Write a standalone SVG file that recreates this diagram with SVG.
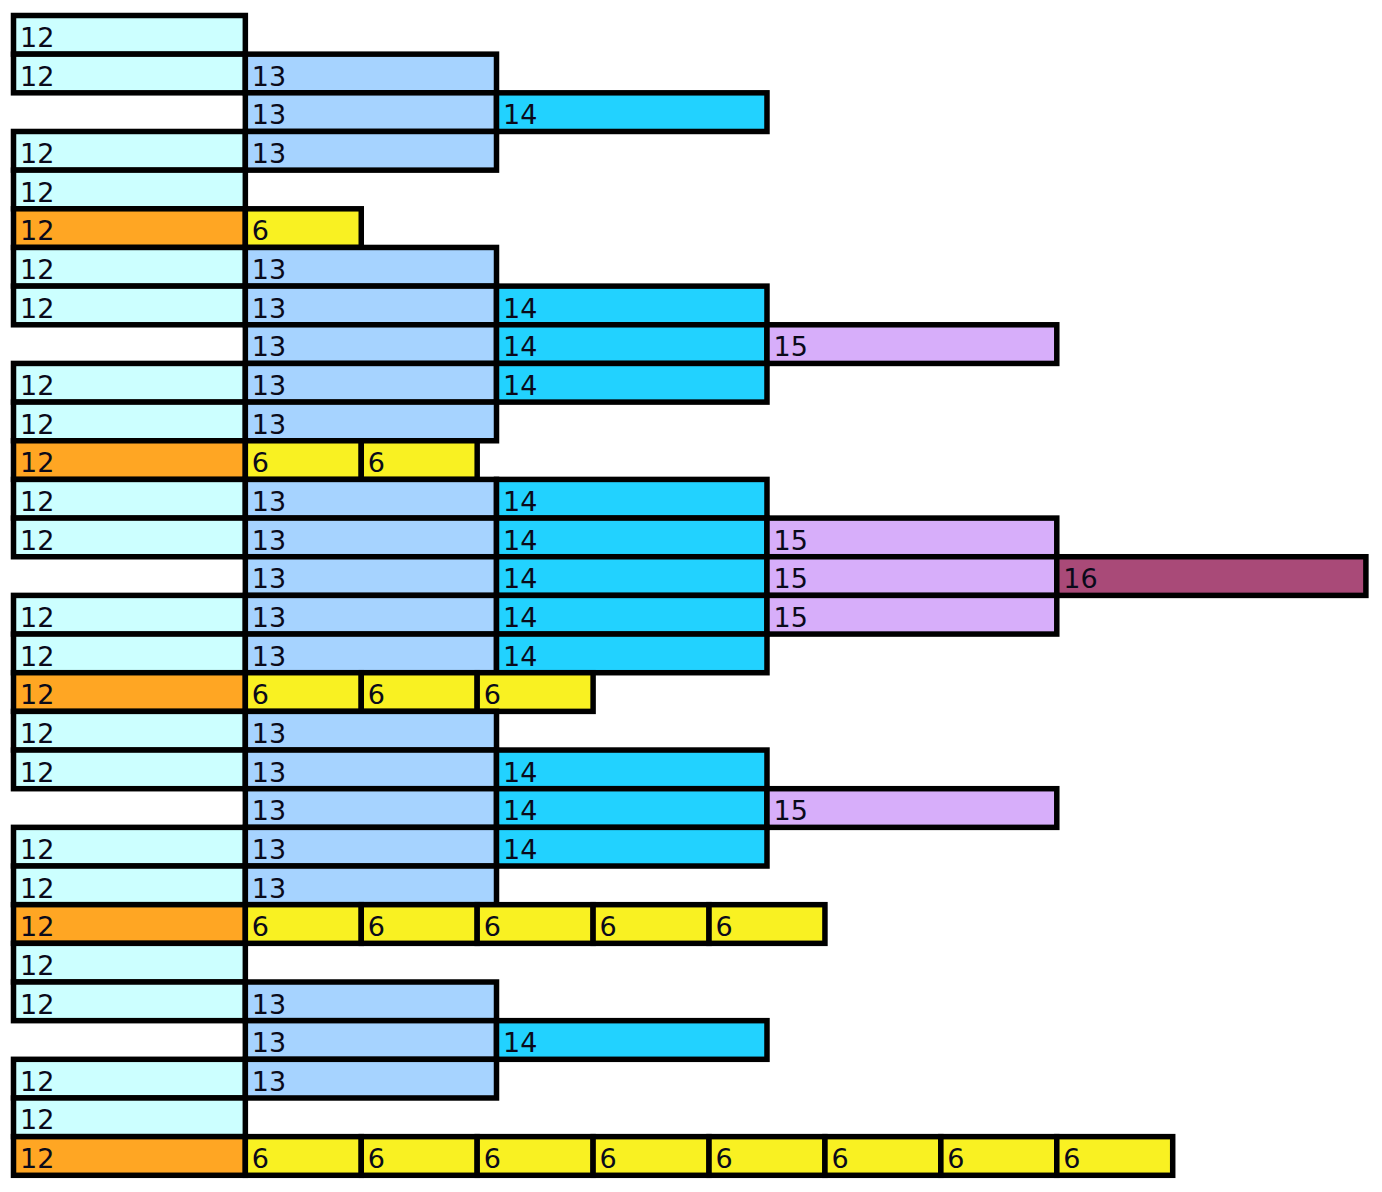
<svg xmlns="http://www.w3.org/2000/svg" width="1382" height="1192" viewBox="0 0 1382 1192">
<style>
rect{stroke:#000;stroke-width:5.5}
.a{fill:#CCFFFF}.o{fill:#FFA623}.b{fill:#A6D3FF}.c{fill:#22D2FF}.p{fill:#D7AEFA}.m{fill:#A94A78}.y{fill:#F9F122}
text{font-family:"DejaVu Sans",Verdana,sans-serif;font-size:27px;fill:#0a0a1a}
</style>
<rect x="0" y="0" width="1382" height="1192" fill="#fff" style="stroke:none"/>
<g id="r1"><rect class="a" x="13.5" y="15.5" width="231.84" height="38.66"/><text x="20" y="47">12</text></g>
<g id="r2"><rect class="a" x="13.5" y="54.16" width="231.84" height="38.66"/><text x="20" y="85.66">12</text><rect class="b" x="245.34" y="54.16" width="251.16" height="38.66"/><text x="251.84" y="85.66">13</text></g>
<g id="r3"><rect class="b" x="245.34" y="92.82" width="251.16" height="38.66"/><text x="251.84" y="124.32">13</text><rect class="c" x="496.5" y="92.82" width="270.48" height="38.66"/><text x="503" y="124.32">14</text></g>
<g id="r4"><rect class="a" x="13.5" y="131.48" width="231.84" height="38.66"/><text x="20" y="162.98">12</text><rect class="b" x="245.34" y="131.48" width="251.16" height="38.66"/><text x="251.84" y="162.98">13</text></g>
<g id="r5"><rect class="a" x="13.5" y="170.14" width="231.84" height="38.66"/><text x="20" y="201.64">12</text></g>
<g id="r6"><rect class="o" x="13.5" y="208.8" width="231.84" height="38.66"/><text x="20" y="240.3">12</text><rect class="y" x="245.34" y="208.8" width="115.92" height="38.66"/><text x="251.84" y="240.3">6</text></g>
<g id="r7"><rect class="a" x="13.5" y="247.46" width="231.84" height="38.66"/><text x="20" y="278.96">12</text><rect class="b" x="245.34" y="247.46" width="251.16" height="38.66"/><text x="251.84" y="278.96">13</text></g>
<g id="r8"><rect class="a" x="13.5" y="286.12" width="231.84" height="38.66"/><text x="20" y="317.62">12</text><rect class="b" x="245.34" y="286.12" width="251.16" height="38.66"/><text x="251.84" y="317.62">13</text><rect class="c" x="496.5" y="286.12" width="270.48" height="38.66"/><text x="503" y="317.62">14</text></g>
<g id="r9"><rect class="b" x="245.34" y="324.78" width="251.16" height="38.66"/><text x="251.84" y="356.28">13</text><rect class="c" x="496.5" y="324.78" width="270.48" height="38.66"/><text x="503" y="356.28">14</text><rect class="p" x="766.98" y="324.78" width="289.8" height="38.66"/><text x="773.48" y="356.28">15</text></g>
<g id="r10"><rect class="a" x="13.5" y="363.44" width="231.84" height="38.66"/><text x="20" y="394.94">12</text><rect class="b" x="245.34" y="363.44" width="251.16" height="38.66"/><text x="251.84" y="394.94">13</text><rect class="c" x="496.5" y="363.44" width="270.48" height="38.66"/><text x="503" y="394.94">14</text></g>
<g id="r11"><rect class="a" x="13.5" y="402.1" width="231.84" height="38.66"/><text x="20" y="433.6">12</text><rect class="b" x="245.34" y="402.1" width="251.16" height="38.66"/><text x="251.84" y="433.6">13</text></g>
<g id="r12"><rect class="o" x="13.5" y="440.76" width="231.84" height="38.66"/><text x="20" y="472.26">12</text><rect class="y" x="245.34" y="440.76" width="115.92" height="38.66"/><text x="251.84" y="472.26">6</text><rect class="y" x="361.26" y="440.76" width="115.92" height="38.66"/><text x="367.76" y="472.26">6</text></g>
<g id="r13"><rect class="a" x="13.5" y="479.42" width="231.84" height="38.66"/><text x="20" y="510.92">12</text><rect class="b" x="245.34" y="479.42" width="251.16" height="38.66"/><text x="251.84" y="510.92">13</text><rect class="c" x="496.5" y="479.42" width="270.48" height="38.66"/><text x="503" y="510.92">14</text></g>
<g id="r14"><rect class="a" x="13.5" y="518.08" width="231.84" height="38.66"/><text x="20" y="549.58">12</text><rect class="b" x="245.34" y="518.08" width="251.16" height="38.66"/><text x="251.84" y="549.58">13</text><rect class="c" x="496.5" y="518.08" width="270.48" height="38.66"/><text x="503" y="549.58">14</text><rect class="p" x="766.98" y="518.08" width="289.8" height="38.66"/><text x="773.48" y="549.58">15</text></g>
<g id="r15"><rect class="b" x="245.34" y="556.74" width="251.16" height="38.66"/><text x="251.84" y="588.24">13</text><rect class="c" x="496.5" y="556.74" width="270.48" height="38.66"/><text x="503" y="588.24">14</text><rect class="p" x="766.98" y="556.74" width="289.8" height="38.66"/><text x="773.48" y="588.24">15</text><rect class="m" x="1056.78" y="556.74" width="309.12" height="38.66"/><text x="1063.28" y="588.24">16</text></g>
<g id="r16"><rect class="a" x="13.5" y="595.4" width="231.84" height="38.66"/><text x="20" y="626.9">12</text><rect class="b" x="245.34" y="595.4" width="251.16" height="38.66"/><text x="251.84" y="626.9">13</text><rect class="c" x="496.5" y="595.4" width="270.48" height="38.66"/><text x="503" y="626.9">14</text><rect class="p" x="766.98" y="595.4" width="289.8" height="38.66"/><text x="773.48" y="626.9">15</text></g>
<g id="r17"><rect class="a" x="13.5" y="634.06" width="231.84" height="38.66"/><text x="20" y="665.56">12</text><rect class="b" x="245.34" y="634.06" width="251.16" height="38.66"/><text x="251.84" y="665.56">13</text><rect class="c" x="496.5" y="634.06" width="270.48" height="38.66"/><text x="503" y="665.56">14</text></g>
<g id="r18"><rect class="o" x="13.5" y="672.72" width="231.84" height="38.66"/><text x="20" y="704.22">12</text><rect class="y" x="245.34" y="672.72" width="115.92" height="38.66"/><text x="251.84" y="704.22">6</text><rect class="y" x="361.26" y="672.72" width="115.92" height="38.66"/><text x="367.76" y="704.22">6</text><rect class="y" x="477.18" y="672.72" width="115.92" height="38.66"/><text x="483.68" y="704.22">6</text></g>
<g id="r19"><rect class="a" x="13.5" y="711.38" width="231.84" height="38.66"/><text x="20" y="742.88">12</text><rect class="b" x="245.34" y="711.38" width="251.16" height="38.66"/><text x="251.84" y="742.88">13</text></g>
<g id="r20"><rect class="a" x="13.5" y="750.04" width="231.84" height="38.66"/><text x="20" y="781.54">12</text><rect class="b" x="245.34" y="750.04" width="251.16" height="38.66"/><text x="251.84" y="781.54">13</text><rect class="c" x="496.5" y="750.04" width="270.48" height="38.66"/><text x="503" y="781.54">14</text></g>
<g id="r21"><rect class="b" x="245.34" y="788.7" width="251.16" height="38.66"/><text x="251.84" y="820.2">13</text><rect class="c" x="496.5" y="788.7" width="270.48" height="38.66"/><text x="503" y="820.2">14</text><rect class="p" x="766.98" y="788.7" width="289.8" height="38.66"/><text x="773.48" y="820.2">15</text></g>
<g id="r22"><rect class="a" x="13.5" y="827.36" width="231.84" height="38.66"/><text x="20" y="858.86">12</text><rect class="b" x="245.34" y="827.36" width="251.16" height="38.66"/><text x="251.84" y="858.86">13</text><rect class="c" x="496.5" y="827.36" width="270.48" height="38.66"/><text x="503" y="858.86">14</text></g>
<g id="r23"><rect class="a" x="13.5" y="866.02" width="231.84" height="38.66"/><text x="20" y="897.52">12</text><rect class="b" x="245.34" y="866.02" width="251.16" height="38.66"/><text x="251.84" y="897.52">13</text></g>
<g id="r24"><rect class="o" x="13.5" y="904.68" width="231.84" height="38.66"/><text x="20" y="936.18">12</text><rect class="y" x="245.34" y="904.68" width="115.92" height="38.66"/><text x="251.84" y="936.18">6</text><rect class="y" x="361.26" y="904.68" width="115.92" height="38.66"/><text x="367.76" y="936.18">6</text><rect class="y" x="477.18" y="904.68" width="115.92" height="38.66"/><text x="483.68" y="936.18">6</text><rect class="y" x="593.1" y="904.68" width="115.92" height="38.66"/><text x="599.6" y="936.18">6</text><rect class="y" x="709.02" y="904.68" width="115.92" height="38.66"/><text x="715.52" y="936.18">6</text></g>
<g id="r25"><rect class="a" x="13.5" y="943.34" width="231.84" height="38.66"/><text x="20" y="974.84">12</text></g>
<g id="r26"><rect class="a" x="13.5" y="982" width="231.84" height="38.66"/><text x="20" y="1013.5">12</text><rect class="b" x="245.34" y="982" width="251.16" height="38.66"/><text x="251.84" y="1013.5">13</text></g>
<g id="r27"><rect class="b" x="245.34" y="1020.66" width="251.16" height="38.66"/><text x="251.84" y="1052.16">13</text><rect class="c" x="496.5" y="1020.66" width="270.48" height="38.66"/><text x="503" y="1052.16">14</text></g>
<g id="r28"><rect class="a" x="13.5" y="1059.32" width="231.84" height="38.66"/><text x="20" y="1090.82">12</text><rect class="b" x="245.34" y="1059.32" width="251.16" height="38.66"/><text x="251.84" y="1090.82">13</text></g>
<g id="r29"><rect class="a" x="13.5" y="1097.98" width="231.84" height="38.66"/><text x="20" y="1129.48">12</text></g>
<g id="r30"><rect class="o" x="13.5" y="1136.64" width="231.84" height="38.66"/><text x="20" y="1168.14">12</text><rect class="y" x="245.34" y="1136.64" width="115.92" height="38.66"/><text x="251.84" y="1168.14">6</text><rect class="y" x="361.26" y="1136.64" width="115.92" height="38.66"/><text x="367.76" y="1168.14">6</text><rect class="y" x="477.18" y="1136.64" width="115.92" height="38.66"/><text x="483.68" y="1168.14">6</text><rect class="y" x="593.1" y="1136.64" width="115.92" height="38.66"/><text x="599.6" y="1168.14">6</text><rect class="y" x="709.02" y="1136.64" width="115.92" height="38.66"/><text x="715.52" y="1168.14">6</text><rect class="y" x="824.94" y="1136.64" width="115.92" height="38.66"/><text x="831.44" y="1168.14">6</text><rect class="y" x="940.86" y="1136.64" width="115.92" height="38.66"/><text x="947.36" y="1168.14">6</text><rect class="y" x="1056.78" y="1136.64" width="115.92" height="38.66"/><text x="1063.28" y="1168.14">6</text></g>
</svg>
